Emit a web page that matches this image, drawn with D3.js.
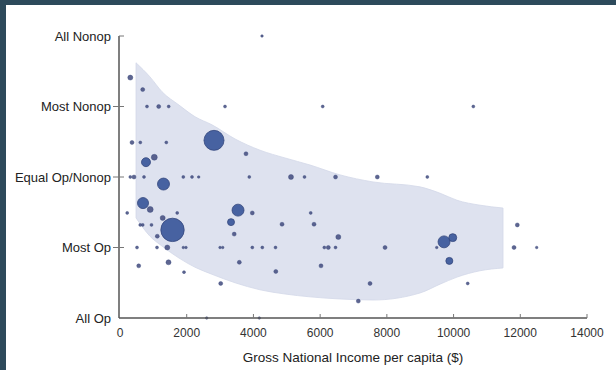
<!DOCTYPE html>
<html>
<head>
<meta charset="utf-8">
<script src="https://cdn.jsdelivr.net/npm/d3@7"></script>
<style>
  html, body { margin: 0; padding: 0; background: #2d4a5b; }
  svg { display: block; }
  text { font-family: "Liberation Sans", Arial, sans-serif; }
</style>
</head>
<body>
<svg id="chart" width="616" height="370"></svg>
<script>
// Opinion categories (0 = All Op ... 4 = All Nonop)
const opinionLabels = ["All Op", "Most Op", "Equal Op/Nonop", "Most Nonop", "All Nonop"];
const xTicks = [0, 2000, 4000, 6000, 8000, 10000, 12000, 14000];

// Countries: GNI per capita ($), mean opinion score, population (millions)
const gni = [
  4257, 309, 681, 809, 1160, 1460, 3148, 6077, 10592,
  360, 609, 1388, 2818, 3777, 1028, 779,
  309, 420, 720, 1898, 2159, 2359, 3876, 5126, 5531, 6461, 7714, 9213,
  1304, 690, 905, 216, 1715, 1280, 606, 681, 944, 1574, 1118,
  510, 1109, 1418, 1898, 1979, 2998, 3079, 3966, 4266, 4662, 6125, 6245, 6461, 7945, 9495, 11812, 12492,
  561, 1454, 1919, 3019, 3538, 3966, 3328, 3424, 3577, 4671, 4857, 5717, 5816, 6545, 6026, 7144, 7495,
  9714, 9975, 9873, 10424, 11911, 2599, 4176
];
const opinion = [
  4.0, 3.41, 3.24, 3.0, 3.0, 3.0, 3.0, 3.0, 3.0,
  2.49, 2.49, 2.49, 2.52, 2.33, 2.28, 2.21,
  2.0, 2.0, 2.0, 2.0, 2.0, 2.0, 2.0, 2.0, 2.0, 2.0, 2.0, 2.0,
  1.90, 1.63, 1.54, 1.49, 1.49, 1.42, 1.32, 1.32, 1.32, 1.25, 1.16,
  1.0, 1.0, 1.0, 1.0, 1.0, 1.0, 1.0, 1.0, 1.0, 1.0, 1.0, 1.0, 1.0, 1.0, 1.0, 1.0, 1.0,
  0.74, 0.79, 0.65, 0.49, 1.53, 1.49, 1.36, 1.19, 0.79, 0.66, 1.33, 1.49, 1.33, 1.15, 0.74, 0.24, 0.49,
  1.08, 1.14, 0.81, 0.49, 1.32, 0.0, 0.0
];
const population = [
  16, 60, 38, 21, 38, 21, 21, 21, 21,
  38, 21, 21, 950, 38, 85, 190,
  21, 38, 21, 21, 21, 16, 21, 60, 21, 38, 38, 21,
  340, 290, 85, 21, 21, 60, 21, 21, 21, 1300, 38,
  21, 21, 60, 16, 16, 16, 16, 21, 21, 21, 21, 38, 21, 38, 16, 38, 16,
  38, 60, 21, 38, 340, 38, 116, 38, 38, 38, 38, 21, 38, 60, 38, 38, 38,
  340, 150, 116, 21, 38, 16, 16
];

// Shaded band: GNI positions with upper and lower opinion bounds
const bandGni  = [480, 899, 1259, 1769, 2249, 2758, 3448, 4197, 4947, 5696, 6596, 7585, 8994, 9594, 10103, 10793, 11482];
const bandHigh = [3.62, 3.42, 3.21, 3.02, 2.855, 2.74, 2.54, 2.38, 2.27, 2.17, 2.03, 1.93, 1.86, 1.77, 1.67, 1.60, 1.56];
const bandLow  = [1.42, 1.16, 1.02, 0.85, 0.72, 0.62, 0.50, 0.40, 0.34, 0.30, 0.27, 0.255, 0.355, 0.48, 0.58, 0.67, 0.71];

const svg = d3.select("#chart");

// page panel
svg.append("rect").attr("x", 0).attr("y", 0).attr("width", 616).attr("height", 370).attr("fill", "#2d4a5b");
svg.append("rect").attr("x", 6).attr("y", 5).attr("width", 610).attr("height", 365).attr("fill", "#ffffff");

const x = d3.scaleLinear().domain([0, 14000]).range([120, 587]);
const y = d3.scaleLinear().domain([0, 4]).range([318, 36]);
const r = d3.scaleSqrt().domain([0, 1300]).range([0, 11.7]);

// band
const band = bandGni.map((g, i) => ({ g, hi: bandHigh[i], lo: bandLow[i] }));
const area = d3.area()
  .x(d => x(d.g))
  .y0(d => y(d.lo))
  .y1(d => y(d.hi))
  .curve(d3.curveMonotoneX);
svg.append("path")
  .datum(band)
  .attr("d", area)
  .attr("fill", "#dee2ef")
  .attr("stroke", "#d3d8e9")
  .attr("stroke-width", 0.8);

// bubbles, largest first so small ones stay visible
const pts = gni.map((g, i) => ({ g, v: opinion[i], p: population[i] }))
  .sort((a, b) => b.p - a.p);
svg.append("g")
  .selectAll("circle")
  .data(pts)
  .join("circle")
  .attr("cx", d => x(d.g))
  .attr("cy", d => y(d.v))
  .attr("r", d => r(d.p))
  .attr("fill", d => d.p > 100 ? "#3e5b9c" : "#424a7c")
  .attr("fill-opacity", d => d.p > 100 ? 0.95 : 0.85)
  .attr("stroke", "#34467c")
  .attr("stroke-width", d => d.p > 100 ? 0.8 : 0.4);

// axes
const axisColor = "#555";
svg.append("line")
  .attr("x1", 119).attr("x2", 119)
  .attr("y1", y(4)).attr("y2", y(0))
  .attr("stroke", axisColor).attr("stroke-width", 1.5);
svg.append("line")
  .attr("x1", 119).attr("x2", x(14000))
  .attr("y1", y(0)).attr("y2", y(0))
  .attr("stroke", axisColor).attr("stroke-width", 1.5);

// y ticks and labels
const yg = svg.append("g");
opinionLabels.forEach((lab, i) => {
  if (i > 0) {
    yg.append("line")
      .attr("x1", i === 4 ? 119 : 113).attr("x2", 124)
      .attr("y1", y(i)).attr("y2", y(i))
      .attr("stroke", "#777").attr("stroke-width", 1);
  }
  yg.append("text")
    .attr("x", 111)
    .attr("y", y(i))
    .attr("dy", "0.35em")
    .attr("text-anchor", "end")
    .attr("font-size", 13)
    .attr("fill", "#222")
    .text(lab);
});

// x ticks and labels
const xg = svg.append("g");
xTicks.forEach(t => {
  if (t > 0) {
    xg.append("line")
      .attr("x1", x(t)).attr("x2", x(t))
      .attr("y1", y(0)).attr("y2", y(0) - 4)
      .attr("stroke", "#777").attr("stroke-width", 1);
  }
  xg.append("text")
    .attr("x", x(t))
    .attr("y", 337)
    .attr("text-anchor", "middle")
    .attr("font-size", 12)
    .attr("fill", "#333")
    .text(t);
});

svg.append("text")
  .attr("x", 353)
  .attr("y", 362)
  .attr("text-anchor", "middle")
  .attr("font-size", 13.5)
  .attr("fill", "#222")
  .text("Gross National Income per capita ($)");
</script>
</body>
</html>
